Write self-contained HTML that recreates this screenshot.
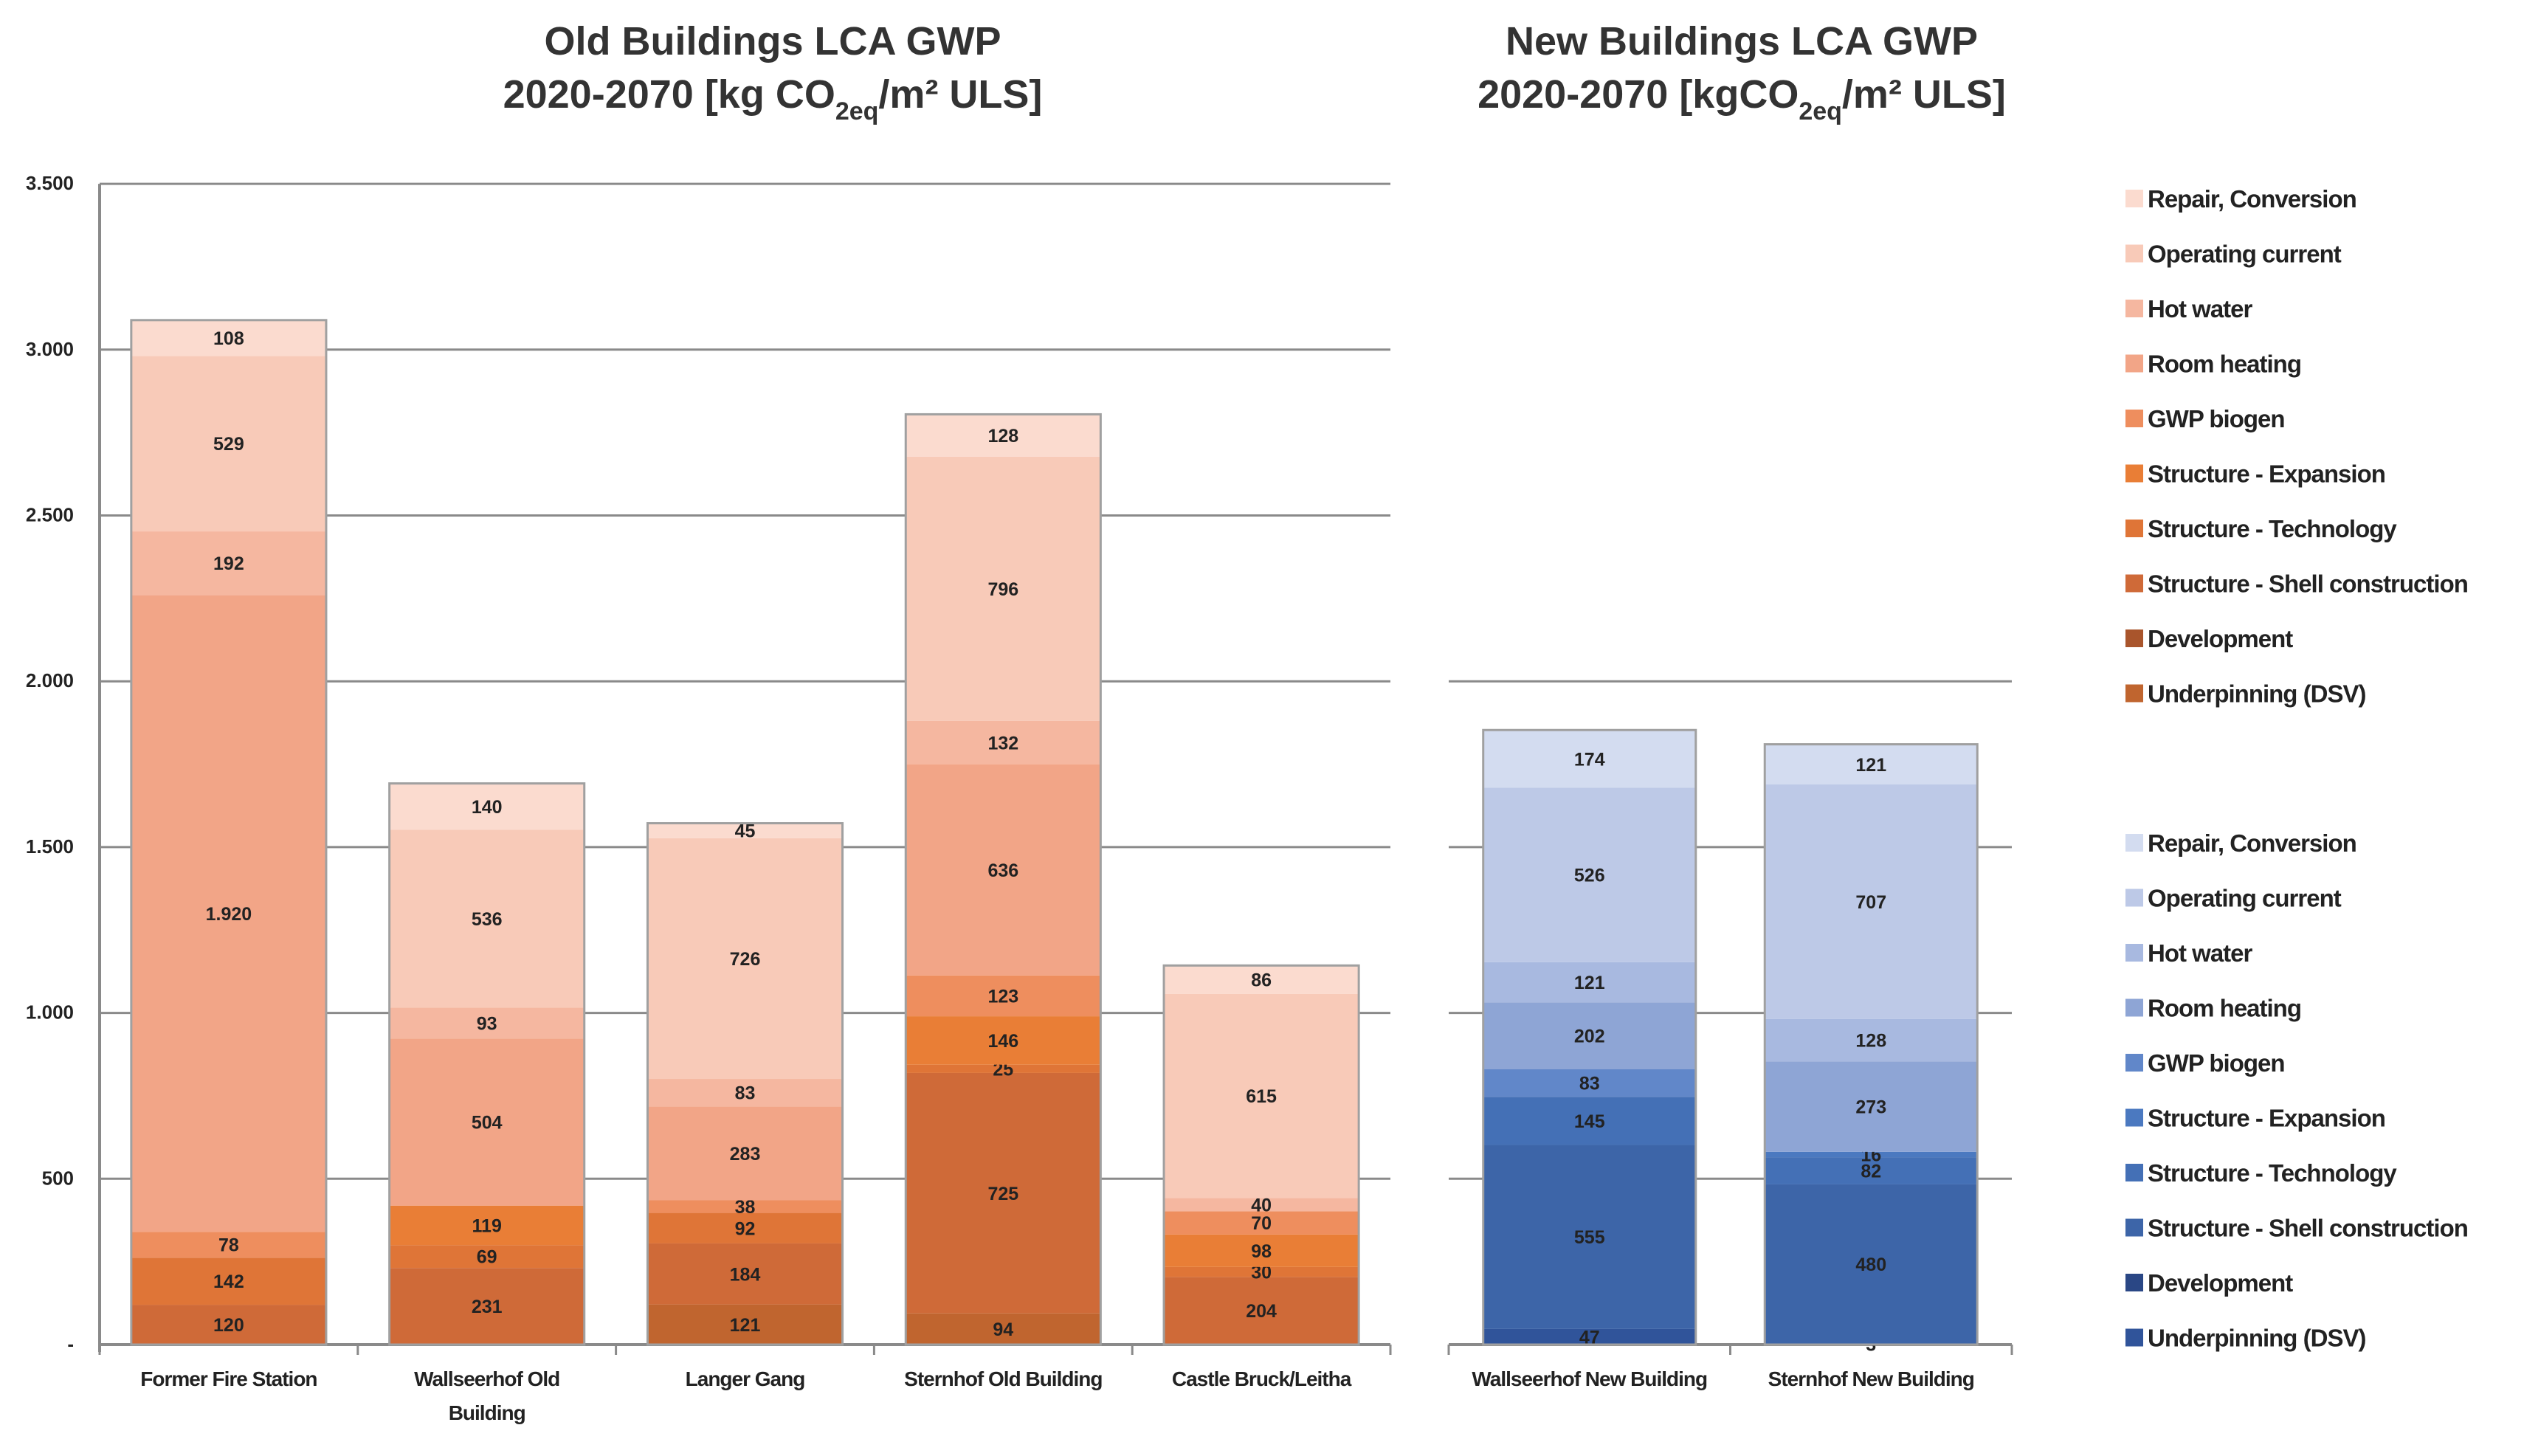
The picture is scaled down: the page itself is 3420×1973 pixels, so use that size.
<!DOCTYPE html>
<html><head><meta charset="utf-8"><style>
body{margin:0;background:#fff;}
svg{display:block;font-family:"Liberation Sans",sans-serif;}
</style></head><body>
<svg id="c" width="3420" height="1973" viewBox="0 0 3420 1973"></svg>
<script>
const seriesNames=["Underpinning (DSV)","Development","Structure - Shell construction","Structure - Technology","Structure - Expansion","GWP biogen","Room heating","Hot water","Operating current","Repair, Conversion"];
const oldCats=[["Former Fire Station"],["Wallseerhof Old","Building"],["Langer Gang"],["Sternhof Old Building"],["Castle Bruck/Leitha"]];
const newCats=[["Wallseerhof New Building"],["Sternhof New Building"]];
const oldFire=[0,0,120,142,0,78,1920,192,529,108];
const oldWall=[0,0,231,69,119,0,504,93,536,140];
const oldLanger=[121,0,184,92,0,38,283,83,726,45];
const oldStern=[94,0,725,25,146,123,636,132,796,128];
const oldCastle=[0,0,204,30,98,70,0,40,615,86];
const newWall=[47,0,555,145,0,83,202,121,526,174];
const newStern=[3,0,480,82,16,0,273,128,707,121];
const yTicks=[0,500,1000,1500,2000,2500,3000,3500];
const yTickLabels=["-","500","1.000","1.500","2.000","2.500","3.000","3.500"];
const orange=["#c0652f","#a9552c","#cf6a38","#df7537","#e97e36","#ee8e5e","#f2a587","#f5b7a0","#f8cab8","#fbdbcf"];
const blue=["#30549a","#2a4785","#3d65a8","#4470b6","#4b79c0","#6187c9","#8ea5d5","#a8b9e0","#bdc9e7","#d3dcf0"];
const oldData=[oldFire,oldWall,oldLanger,oldStern,oldCastle];
const newData=[newWall,newStern];
const S="http://www.w3.org/2000/svg";
const svg=document.getElementById('c');
function mk(t,a,p){const e=document.createElementNS(S,t);for(const k in a)e.setAttribute(k,a[k]);(p||svg).appendChild(e);return e;}
const y0=1822,k=0.4494;
function Y(v){return y0-v*k;}
function fmt(v){return v>=1000?(Math.floor(v/1000)+"."+String(v%1000).padStart(3,"0")):String(v);}
function panel(name,x0,x1,ymax,cats,data,cols,showY){
  const g=mk('g',{});
  
  
  yTicks.forEach((t,i)=>{if(t>ymax)return;
    const l=mk('line',{x1:x0,x2:x1,y1:Y(t),y2:Y(t),stroke:'#8a8a8a','stroke-width':t==0?4:3},g);
    
    if(showY){const tx=mk('text',{x:100,y:Y(t)+8,'text-anchor':'end','font-size':26,'font-weight':'bold',fill:'#222'},g);tx.textContent=yTickLabels[i];
      }
  });
  if(showY){const a=mk('line',{x1:x0,x2:x0,y1:Y(3500),y2:y0+10,stroke:'#8a8a8a','stroke-width':4},g);}
  const cw=(x1-x0)/cats.length, bw=cw*0.755;
  for(let i=0;i<=cats.length;i++){const tk=mk('line',{x1:x0+i*cw,x2:x0+i*cw,y1:y0,y2:y0+14,stroke:'#8a8a8a','stroke-width':3},g);}
  cats.forEach((c,i)=>{
    const bx=x0+i*cw+(cw-bw)/2;let acc=0;
    const bg=mk('g',{},g);
    data[i].forEach((v,s)=>{if(v<=0)return;
      const r=mk('rect',{x:bx,y:Y(acc+v),width:bw,height:v*k,fill:cols[s]},bg);
      
      const t=mk('text',{x:bx+bw/2,y:Y(acc+v/2)+9,'text-anchor':'middle','font-size':25,'font-weight':'bold',fill:'#222'},bg);t.textContent=fmt(v);
      
      acc+=v;});
    const o=mk('rect',{x:bx,y:Y(acc),width:bw,height:acc*k,fill:'none',stroke:'#a0a0a0','stroke-width':3},bg);
    
    c.forEach((ln,j)=>{const t=mk('text',{x:x0+i*cw+cw/2,y:1878+j*46,'text-anchor':'middle','font-size':28,'font-weight':'bold',fill:'#222','letter-spacing':-1},g);t.textContent=ln;
      });
  });
}
panel('old-buildings-chart',135,1884,3500,oldCats,oldData,orange,true);
panel('new-buildings-chart',1963,2726,2000,newCats,newData,blue,false);
function title(x,l1,unit,name){
  const t=mk('text',{x:x,y:74,'text-anchor':'middle','font-size':54,'font-weight':'bold',fill:'#333'});t.textContent=l1;
  
  const t2=mk('text',{x:x,y:146,'text-anchor':'middle','font-size':54,'font-weight':'bold',fill:'#333'});
  
  t2.innerHTML='2020-2070 ['+unit+'CO<tspan font-size="34" dy="16">2eq</tspan><tspan dy="-16">/m² ULS]</tspan>';
}
title(1047,'Old Buildings LCA GWP','kg ','old-chart-title');
title(2360,'New Buildings LCA GWP','kg','new-chart-title');
function legend(y,cols,name){
  for(let i=0;i<10;i++){const s=9-i;const yy=y+i*74.5;
    const g=mk('g',{});
    mk('rect',{x:2880,y:yy-24,width:24,height:24,fill:cols[s]},g);
    const t=mk('text',{x:2910,y:yy,'font-size':33,'font-weight':'bold',fill:'#222','letter-spacing':-1},g);t.textContent=seriesNames[s];}
}
legend(281,orange,'old-legend');
legend(1154,blue,'new-legend');
</script>
</body></html>
